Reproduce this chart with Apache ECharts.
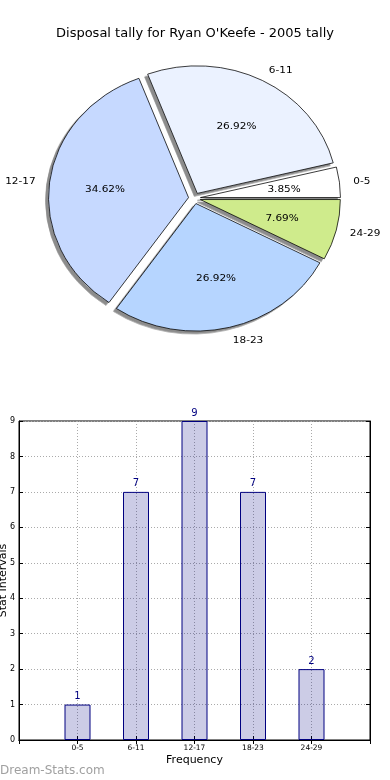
<!DOCTYPE html>
<html>
<head>
<meta charset="utf-8">
<script src="https://cdn.jsdelivr.net/npm/echarts@6/dist/echarts.min.js"></script>
<style>
  html, body { margin: 0; padding: 0; background: #fff; }
  #main { position: absolute; left: 0; top: 0; width: 390px; height: 780px; }
  #pie { position: absolute; left: 0; top: 0; width: 390px; height: 420px;
         transform: scaleY(0.911); transform-origin: 0 0; pointer-events: none; }
</style>
</head>
<body>
<div id="main"></div>
<div id="pie"></div>
<script>
const titleText = "Disposal tally for Ryan O'Keefe - 2005 tally";
const categories = ['0-5', '6-11', '12-17', '18-23', '24-29'];
const values = [1, 7, 9, 7, 2];
const sliceColors = ['#ffffff', '#ebf2ff', '#c6d9ff', '#b6d5ff', '#cfeb8c'];
const yMin = 0, yMax = 9, yStep = 1;
const xAxisName = 'Frequency';
const yAxisName = 'Stat Intervals';
const watermark = 'Dream-Stats.com';

const FONT = 'DejaVu Sans';

// ---------- bar chart + title ----------
const main = echarts.init(document.getElementById('main'), null, { renderer: 'canvas' });
const xLabels = [''].concat(categories, ['']);
const barData = ['-'].concat(values, ['-']);
main.setOption({
  animation: false,
  textStyle: { fontFamily: FONT },
  title: {
    text: titleText, left: 'center', top: 22,
    textStyle: { fontSize: 13, fontWeight: 'normal', color: '#000', fontFamily: FONT }
  },
  grid: { left: 19, right: 20, top: 421, bottom: 40, show: true, borderColor: '#000', borderWidth: 1,
          containLabel: false, outerBoundsMode: 'none' },
  xAxis: [{
    type: 'category', data: xLabels, boundaryGap: false,
    axisLine: { show: true, lineStyle: { color: '#000', width: 1 } },
    axisTick: { show: true, inside: true, length: 4, interval: 0, lineStyle: { color: '#000' } },
    axisLabel: { fontSize: 7.5, color: '#000', margin: 4, interval: 0, fontFamily: FONT },
    splitLine: { show: true, interval: 0, lineStyle: { color: '#aaa', type: [1, 2], width: 1 } },
    name: xAxisName, nameLocation: 'middle', nameGap: 15, nameMoveOverlap: false,
    nameTextStyle: { fontSize: 11, color: '#000', fontFamily: FONT }
  }, {
    type: 'category', data: xLabels, boundaryGap: false, position: 'top',
    axisLine: { show: true, lineStyle: { color: '#000', width: 1 } },
    axisTick: { show: true, inside: true, length: 4, interval: 0, lineStyle: { color: '#000' } },
    axisLabel: { show: false }, splitLine: { show: false }
  }],
  yAxis: [{
    type: 'value', min: yMin, max: yMax, interval: yStep,
    axisLine: { show: true, lineStyle: { color: '#000', width: 1 } },
    axisTick: { show: true, inside: true, length: 4, lineStyle: { color: '#000' } },
    axisLabel: { fontSize: 8, color: '#000', margin: 4, fontFamily: FONT },
    splitLine: { show: true, lineStyle: { color: '#aaa', type: [1, 2], width: 1 } },
    name: yAxisName, nameLocation: 'middle', nameGap: 10, nameRotate: 90, nameMoveOverlap: false,
    nameTextStyle: { fontSize: 11, color: '#000', fontFamily: FONT }
  }, {
    type: 'value', min: yMin, max: yMax, interval: yStep, position: 'right',
    axisLine: { show: true, lineStyle: { color: '#000', width: 1 } },
    axisTick: { show: true, inside: true, length: 4, lineStyle: { color: '#000' } },
    axisLabel: { show: false }, splitLine: { show: false }
  }],
  series: [{
    type: 'bar', xAxisIndex: 0, yAxisIndex: 0, data: barData, barWidth: 26,
    itemStyle: { color: 'rgba(0,0,128,0.2)', borderColor: '#000080', borderWidth: 1 },
    label: { show: true, position: 'top', distance: 3, fontSize: 10, color: '#000080', fontFamily: FONT },
    emphasis: { disabled: true }
  }],
  graphic: [{
    type: 'text', left: 0, top: 765,
    style: { text: watermark, fontSize: 12, fontFamily: FONT, fill: '#a0a0a0' }
  }]
});

// ---------- pie chart (elliptical via vertical scaling) ----------
const pie = echarts.init(document.getElementById('pie'), null, { renderer: 'svg' });
const R = 140;
const C = [194.5, 217.6];
const OFF = 6;
pie.setOption({
  animation: false,
  textStyle: { fontFamily: FONT },
  series: [{
    type: 'pie', center: C, radius: R, startAngle: 0, clockwise: false,
    selectedMode: 'multiple', selectedOffset: OFF, avoidLabelOverlap: false,
    label: { show: true, position: 'outside', formatter: '{b}', fontSize: 10.5, color: '#000',
             distanceToLabelLine: 0, fontFamily: FONT },
    labelLine: { show: false, length: R * 0.1, length2: 0 },
    itemStyle: { borderColor: '#000', borderWidth: 0.8,
                 shadowColor: 'rgba(0,0,0,0.45)', shadowOffsetX: -3, shadowOffsetY: 3, shadowBlur: 1 },
    emphasis: { disabled: true },
    select: { itemStyle: { borderColor: '#000', borderWidth: 0.8 } },
    data: categories.map((c, i) => ({ name: c, value: values[i], selected: true,
      itemStyle: { color: sliceColors[i] }, select: { itemStyle: { color: sliceColors[i] } } }))
  }, {
    type: 'pie', center: C, radius: [R * 0.48, R * 0.68], startAngle: 0, clockwise: false,
    selectedMode: 'multiple', selectedOffset: OFF, avoidLabelOverlap: false, silent: true,
    label: { show: true, position: 'inside', formatter: '{d}%', fontSize: 10.5, color: '#000', fontFamily: FONT },
    labelLine: { show: false },
    itemStyle: { color: 'rgba(0,0,0,0)', borderWidth: 0 },
    emphasis: { disabled: true },
    select: { itemStyle: { color: 'rgba(0,0,0,0)', borderWidth: 0 } },
    data: categories.map((c, i) => ({ name: c, value: values[i], selected: true }))
  }]
});
</script>
</body>
</html>
